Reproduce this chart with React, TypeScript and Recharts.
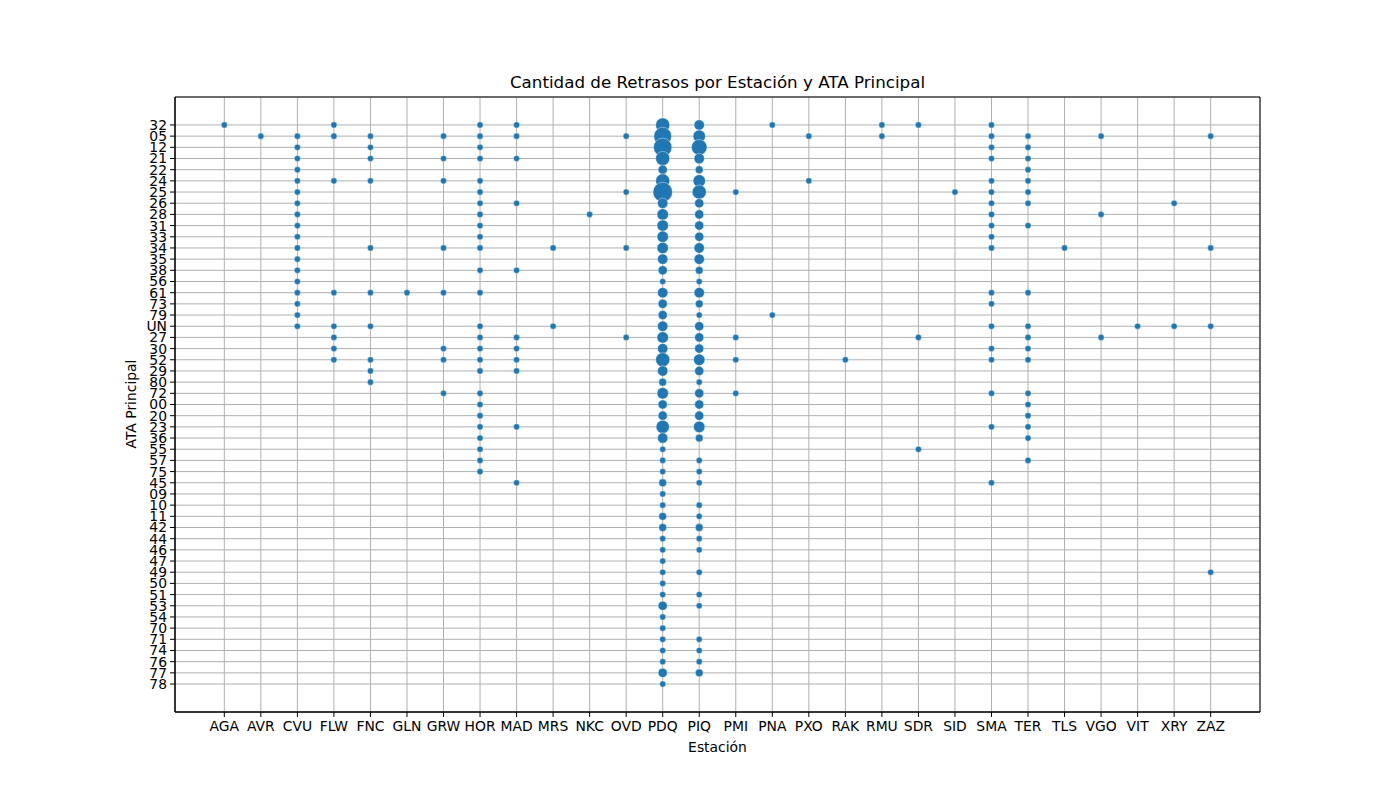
import { ScatterChart, Scatter, XAxis, YAxis, ZAxis, CartesianGrid, ReferenceArea } from "recharts";

const stations = [
  "AGA", "AVR", "CVU", "FLW", "FNC", "GLN", "GRW", "HOR", "MAD", "MRS", "NKC", "OVD", "PDQ", "PIQ",
  "PMI", "PNA", "PXO", "RAK", "RMU", "SDR", "SID", "SMA", "TER", "TLS", "VGO", "VIT", "XRY", "ZAZ",
];

const ataCodes = [
  "32", "05", "12", "21", "22", "24", "25", "26", "28", "31", "33", "34", "35", "38", "56", "61", "73",
  "79", "UN", "27", "30", "52", "29", "80", "72", "00", "20", "23", "36", "55", "57", "75", "45", "09",
  "10", "11", "42", "44", "46", "47", "49", "50", "51", "53", "54", "70", "71", "74", "76", "77", "78",
];

// small stations: ATA codes with a single delay
const singleDelays: Record<string, string[]> = {
  AGA: ["32"],
  AVR: ["05"],
  CVU: ["05", "12", "21", "22", "24", "25", "26", "28", "31", "33", "34", "35", "38", "56", "61", "73", "79", "UN"],
  FLW: ["32", "05", "24", "61", "UN", "27", "30", "52"],
  FNC: ["05", "12", "21", "24", "34", "61", "UN", "52", "29", "80"],
  GLN: ["61"],
  GRW: ["05", "21", "24", "34", "61", "30", "52", "72"],
  HOR: ["32", "05", "12", "21", "24", "25", "26", "28", "31", "33", "34", "38", "61", "UN", "27", "30", "52", "29", "72", "00", "20", "23", "36", "55", "57", "75"],
  MAD: ["32", "05", "21", "26", "38", "27", "30", "52", "29", "23", "45"],
  MRS: ["34", "UN"],
  NKC: ["28"],
  OVD: ["05", "25", "34", "27"],
  PMI: ["25", "27", "52", "72"],
  PNA: ["32", "79"],
  PXO: ["05", "24"],
  RAK: ["52"],
  RMU: ["32", "05"],
  SDR: ["32", "27", "55"],
  SID: ["25"],
  SMA: ["32", "05", "12", "21", "24", "25", "26", "28", "31", "33", "34", "61", "73", "UN", "30", "52", "72", "23", "45"],
  TER: ["05", "12", "21", "22", "24", "25", "26", "31", "61", "UN", "27", "30", "52", "72", "00", "20", "23", "36", "57"],
  TLS: ["34"],
  VGO: ["05", "28", "27"],
  VIT: ["UN"],
  XRY: ["26", "UN"],
  ZAZ: ["05", "34", "UN", "49"],
};

// PDQ and PIQ counts, in ataCodes order
const pdqCounts = [
  8, 13, 14, 8, 3, 8, 16, 4, 5, 5, 5, 5, 4, 3, 1, 4, 3,
  3, 4, 5, 4, 8, 4, 2, 5, 3, 3, 7, 4, 1, 1, 1, 2, 1,
  1, 2, 2, 1, 1, 1, 1, 1, 1, 3, 1, 1, 1, 1, 1, 3, 1,
];
const piqCounts = [
  4, 6, 10, 4, 2, 6, 8, 3, 3, 3, 3, 4, 4, 2, 1, 4, 2,
  1, 3, 3, 3, 5, 3, 1, 3, 3, 3, 5, 2, 0, 1, 1, 1, 0,
  1, 1, 2, 1, 1, 0, 1, 0, 1, 1, 0, 0, 1, 1, 1, 2, 0,
];

const points: { x: number; y: number; z: number }[] = [];
Object.entries(singleDelays).forEach(([st, codes]) => {
  codes.forEach((c) => points.push({ x: stations.indexOf(st), y: ataCodes.indexOf(c), z: 1 }));
});
pdqCounts.forEach((n, i) => n > 0 && points.push({ x: stations.indexOf("PDQ"), y: i, z: n }));
piqCounts.forEach((n, i) => n > 0 && points.push({ x: stations.indexOf("PIQ"), y: i, z: n }));

const font = "'DejaVu Sans', sans-serif";
const tickStyle = { fontSize: 13.9, fill: "#000", fontFamily: font };
const xDomain = [-1.35, stations.length - 1 + 1.35];
const yDomain = [-2.5, ataCodes.length - 1 + 2.5];

export default function App() {
  return (
    <div style={{ position: "absolute", left: 0, top: 0, width: 1400, height: 800, background: "#fff", fontFamily: font }}>
      <div style={{ position: "absolute", left: 175, width: 1085, top: 72, textAlign: "center", fontSize: 16.7 }}>
        Cantidad de Retrasos por Estación y ATA Principal
      </div>
      <div style={{ position: "absolute", left: 175, width: 1085, top: 739, textAlign: "center", fontSize: 13.9 }}>
        Estación
      </div>
      <div
        style={{
          position: "absolute", left: 131, top: 404, fontSize: 13.9, whiteSpace: "nowrap",
          transform: "translate(-50%, -50%) rotate(-90deg)",
        }}
      >
        ATA Principal
      </div>
      <ScatterChart width={1400} height={800} margin={{ top: 97, right: 140, left: 135, bottom: 58 }}>
        <XAxis
          type="number"
          dataKey="x"
          domain={xDomain}
          ticks={stations.map((_, i) => i)}
          interval={0}
          tickFormatter={(v) => stations[v] ?? ""}
          tick={tickStyle}
          tickSize={5}
          tickMargin={4}
          height={30}
          stroke="#000"
          allowDataOverflow
        />
        <YAxis
          type="number"
          dataKey="y"
          domain={yDomain}
          reversed
          ticks={ataCodes.map((_, i) => i)}
          interval={0}
          tickFormatter={(v) => ataCodes[v] ?? ""}
          tick={tickStyle}
          tickSize={5}
          tickMargin={3}
          width={40}
          stroke="#000"
          allowDataOverflow
        />
        <ZAxis type="number" dataKey="z" domain={[1, 16]} range={[30, 300]} />
        <Scatter
          data={points}
          fill="#1f77b4"
          stroke="#ffffff"
          strokeWidth={0.8}
          strokeOpacity={0.5}
          isAnimationActive={false}
        />
        <CartesianGrid stroke="#b0b0b0" strokeWidth={1} />
        <ReferenceArea
          x1={xDomain[0]}
          x2={xDomain[1]}
          y1={yDomain[0]}
          y2={yDomain[1]}
          fill="none"
          stroke="#000"
          strokeWidth={1}
          ifOverflow="visible"
        />
      </ScatterChart>
    </div>
  );
}
